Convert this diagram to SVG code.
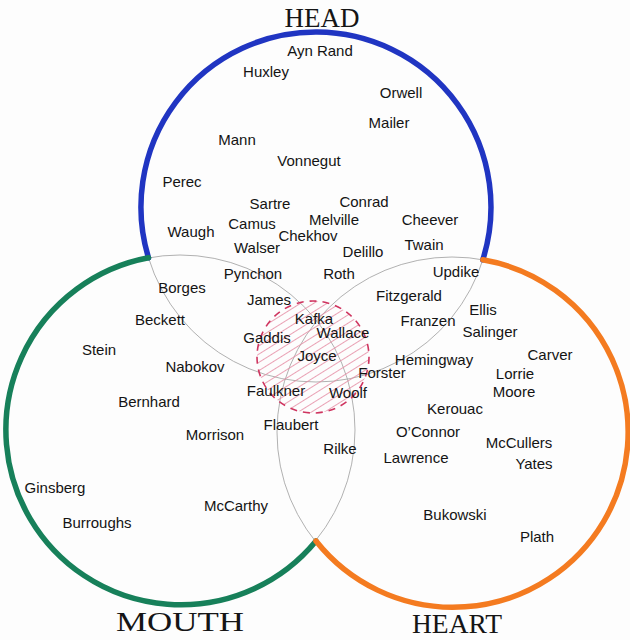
<svg xmlns="http://www.w3.org/2000/svg" width="630" height="640" viewBox="0 0 630 640">
<style>
.bg{fill:#fdfdfd}
.pencil{fill:none;stroke:#a8a8a8;stroke-width:0.9}
.thick{fill:none;stroke-width:5.5;stroke-linecap:round}
.title{font-family:"Liberation Serif",serif;font-size:27px;fill:#151515}
.n{font-family:"Liberation Sans",Arial,sans-serif;font-size:15px;fill:#141414;text-anchor:middle}
</style>
<defs>
<pattern id="hatch" width="7" height="7" patternUnits="userSpaceOnUse" patternTransform="rotate(-32)">
<line x1="0" y1="3.5" x2="7" y2="3.5" stroke="#e58aa2" stroke-width="0.8"/>
</pattern>
</defs>
<rect class="bg" x="0" y="0" width="630" height="640"/>
<g id="connectors">
<circle class="pencil" cx="316" cy="207" r="175"/>
<circle class="pencil" cx="180" cy="430" r="175"/>
<circle class="pencil" cx="452" cy="432" r="175"/>
</g>
<g id="core">
<circle cx="313" cy="357" r="56" fill="url(#hatch)" stroke="#cf3560" stroke-width="1.6" stroke-dasharray="7 6"/>
</g>
<g id="head">
<path class="thick" stroke="#2035c2" d="M148.5 257.8 A175 175 0 1 1 482.8 259.8"/>
<text class="title" x="322" y="27" text-anchor="middle">HEAD</text>
</g>
<g id="mouth">
<path class="thick" stroke="#17805a" d="M316 541 A175 175 0 1 1 148.5 257.8"/>
<text class="title" x="180" y="631" text-anchor="middle" textLength="128" lengthAdjust="spacingAndGlyphs">MOUTH</text>
</g>
<g id="heart">
<path class="thick" stroke="#f47b20" d="M482.8 259.8 A175 175 0 1 1 316 541"/>
<text class="title" x="457" y="633" text-anchor="middle" textLength="90" lengthAdjust="spacingAndGlyphs">HEART</text>
</g>
<g id="names">
<text class="n" x="320" y="56">Ayn Rand</text>
<text class="n" x="266" y="77">Huxley</text>
<text class="n" x="401" y="98">Orwell</text>
<text class="n" x="389" y="128">Mailer</text>
<text class="n" x="237" y="145">Mann</text>
<text class="n" x="309" y="166">Vonnegut</text>
<text class="n" x="182" y="187">Perec</text>
<text class="n" x="270" y="209">Sartre</text>
<text class="n" x="364" y="207">Conrad</text>
<text class="n" x="191" y="237">Waugh</text>
<text class="n" x="252" y="229">Camus</text>
<text class="n" x="334" y="225">Melville</text>
<text class="n" x="430" y="225">Cheever</text>
<text class="n" x="308" y="241">Chekhov</text>
<text class="n" x="257" y="253">Walser</text>
<text class="n" x="363" y="257">Delillo</text>
<text class="n" x="424" y="250">Twain</text>
<text class="n" x="253" y="279">Pynchon</text>
<text class="n" x="339" y="279">Roth</text>
<text class="n" x="456" y="277">Updike</text>
<text class="n" x="182" y="293">Borges</text>
<text class="n" x="269" y="305">James</text>
<text class="n" x="409" y="301">Fitzgerald</text>
<text class="n" x="483" y="315">Ellis</text>
<text class="n" x="160" y="325">Beckett</text>
<text class="n" x="314" y="324">Kafka</text>
<text class="n" x="343" y="338">Wallace</text>
<text class="n" x="428" y="326">Franzen</text>
<text class="n" x="490" y="337">Salinger</text>
<text class="n" x="99" y="355">Stein</text>
<text class="n" x="267" y="343">Gaddis</text>
<text class="n" x="317" y="361">Joyce</text>
<text class="n" x="434" y="365">Hemingway</text>
<text class="n" x="550" y="360">Carver</text>
<text class="n" x="195" y="372">Nabokov</text>
<text class="n" x="382" y="378">Forster</text>
<text class="n" x="515" y="379">Lorrie</text>
<text class="n" x="514" y="397">Moore</text>
<text class="n" x="276" y="396">Faulkner</text>
<text class="n" x="348" y="398">Woolf</text>
<text class="n" x="149" y="407">Bernhard</text>
<text class="n" x="455" y="414">Kerouac</text>
<text class="n" x="291" y="430">Flaubert</text>
<text class="n" x="428" y="437">O’Connor</text>
<text class="n" x="215" y="440">Morrison</text>
<text class="n" x="519" y="448">McCullers</text>
<text class="n" x="340" y="454">Rilke</text>
<text class="n" x="416" y="463">Lawrence</text>
<text class="n" x="534" y="469">Yates</text>
<text class="n" x="55" y="493">Ginsberg</text>
<text class="n" x="236" y="511">McCarthy</text>
<text class="n" x="455" y="520">Bukowski</text>
<text class="n" x="97" y="528">Burroughs</text>
<text class="n" x="537" y="542">Plath</text>
</g>
</svg>
